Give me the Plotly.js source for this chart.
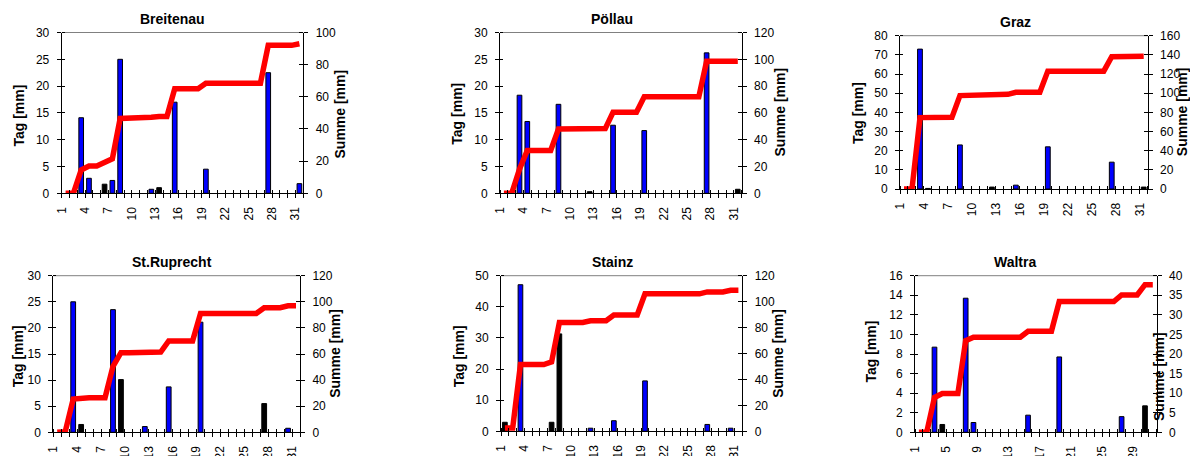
<!DOCTYPE html>
<html><head><meta charset="utf-8">
<script src="https://cdn.plot.ly/plotly-3.0.1.min.js"></script>
<style>html,body{margin:0;padding:0;background:#fff}#chart{width:1190px;height:456px}</style>
</head><body><div id="chart"></div>
<script>
// ---- data ----
const days = [1,2,3,4,5,6,7,8,9,10,11,12,13,14,15,16,17,18,19,20,21,22,23,24,25,26,27,28,29,30,31];
const labelDays = [1,4,7,10,13,16,19,22,25,28,31];
const labelDaysWaltra = [1,5,9,13,17,21,25,29];
const stationNames = ['Breitenau','Pöllau','Graz','St.Ruprecht','Stainz','Waltra'];

// daily precipitation, blue bars
const breitenauBlue  = [0,0,14.1,2.8,0,0,2.4,25.0,0,0,0,0.75,0,0,17.0,0,0,0,4.5,0,0,0,0,0,0,0,22.5,0,0,0,1.8];
const breitenauBlack = [0,0,0,0,0,1.7,0,0,0,0,0,0,1.05,0,0,0,0,0,0,0,0,0,0,0,0,0,0,0,0,0,0];
const breitenauSum   = [0,0,14.5,17,17,19,21.5,46.5,46.5,46.5,46.5,47.3,47.8,47.8,65,65,65,65,68.5,68.5,68.5,68.5,68.5,68.5,68.5,68.5,92,92,92,92,93];

const poellauBlue  = [0,0,18.3,13.4,0,0,0,16.6,0,0,0,0,0,0,12.7,0,0,0,11.7,0,0,0,0,0,0,0,26.2,0,0,0,0];
const poellauBlack = [0,0,0,0,0,0,0,0,0,0,0,0.3,0,0,0,0,0,0,0,0,0,0,0,0,0,0,0,0,0,0,0.75];
const poellauSum   = [0,0,18,32,32,32,32,48,48,48,48,48.3,48.3,48.3,60.5,60.5,60.5,60.5,72,72,72,72,72,72,72,72,98.5,98.5,98.5,98.5,98.5];

const grazBlue  = [0,0,73.0,0,0,0,0,23.0,0,0,0,0,0,0,2.0,0,0,0,22.0,0,0,0,0,0,0,0,14.0,0,0,0,0];
const grazBlack = [0,0,0,0.3,0,0,0,0,0,0,0,1.0,0,0,0,0,0,0,0,0,0,0,0,0,0,0,0,0,0,0,1.0];
const grazSum   = [0,0,74.5,74.8,74.8,74.8,74.8,97.5,97.5,97.5,97.5,98.8,98.8,98.8,101,101,101,101,123,123,123,123,123,123,123,123,138,138,138,138,138.5];

const ruprechtBlue  = [0,0,25.0,0,0,0,0,23.5,0,0,0,1.1,0,0,8.7,0,0,0,21.1,0,0,0,0,0,0,0,0,0,0,0.77,0];
const ruprechtBlack = [0,0,0,1.5,0,0,0,0,10.1,0,0,0,0,0,0,0,0,0,0,0,0,0,0,0,0,0,5.5,0,0,0,0];
const ruprechtSum   = [0,0.5,25.5,26.5,26.5,26.5,26.5,50.5,61,61,61,61.5,61.5,61.5,70,70,70,70,91,91,91,91,91,91,91,91,95.5,95.5,95.5,97,97];

const stainzBlue  = [0,0,47.1,0,0,0,0,0,0,0,0,1.0,0,0,3.4,0,0,0,16.2,0,0,0,0,0,0,0,2.2,0,0,1.0,0];
const stainzBlack = [2.9,0,0,0,0,0,2.9,31.3,0,0,0,0,0,0,0,0,0,0,0,0,0,0,0,0,0,0,0,0,0,0,0];
const stainzSum   = [2.5,2.5,51.5,51.5,51.5,51.5,53.5,84,84,84,84,85.3,85.3,85.3,89.7,89.7,89.7,89.7,106,106,106,106,106,106,106,106,107.5,107.5,107.5,108.8,108.8];

const waltraBlue  = [0,0,8.7,0,0,0,13.7,1.0,0,0,0,0,0,0,1.75,0,0,0,7.7,0,0,0,0,0,0,0,1.6,0,0,0,0];
const waltraBlack = [0,0,0,0.8,0,0,0,0,0,0,0,0,0,0,0,0,0,0,0,0,0,0,0,0,0,0,0,0,0,2.7,0];
const waltraSum   = [0,0,8.9,9.9,9.9,9.9,23.4,24.3,24.3,24.3,24.3,24.3,24.3,24.3,25.8,25.8,25.8,25.8,33.4,33.4,33.4,33.4,33.4,33.4,33.4,33.4,35.1,35.1,35.1,37.7,37.7];

const leftRanges  = [30,30,80,30,50,16];
const leftDticks  = [5,5,10,5,10,2];
const rightRanges = [100,120,160,120,120,40];
const rightDticks = [20,20,20,20,20,5];

// ---- geometry (pixels) ----
const W = 1190, H = 456;
const boxes = [ // left, right, top, bottom
  [61.7,303.3,32.5,193.3],[500,741.7,32.5,193.3],[900,1147.7,35.7,189],
  [53.3,300,275.7,432.3],[501,742.3,275.7,431.3],[915,1156.7,275.7,432.3]];
const titlePos = [[172,19],[612,19],[1015,22],[172,262],[612.5,262],[1014.5,262]];
const leftTitlePos = [[18.8,115.8],[456.7,114],[857.8,113.3],[18.3,356],[459.3,356],[870.8,351.8]];
const rightTitlePos = [[340.3,114.2],[779,112.5],[1182,112.2],[335,353.8],[778,353.8],[1159.7,376.3]];

const blueSets = [breitenauBlue,poellauBlue,grazBlue,ruprechtBlue,stainzBlue,waltraBlue];
const blackSets = [breitenauBlack,poellauBlack,grazBlack,ruprechtBlack,stainzBlack,waltraBlack];
const sumSets = [breitenauSum,poellauSum,grazSum,ruprechtSum,stainzSum,waltraSum];
const labelSets = [labelDays,labelDays,labelDays,labelDays,labelDays,labelDaysWaltra];

const FONT = 'Liberation Sans, Arial, sans-serif';
const traces = [];
const layout = {
  width: W, height: H, margin: {l:0,r:0,t:0,b:0}, autosize: false,
  paper_bgcolor: '#fff', plot_bgcolor: 'rgba(0,0,0,0)',
  showlegend: false, barmode: 'overlay',
  font: {family: FONT, size: 12, color: '#000'},
  annotations: [], shapes: []
};
const nm = (p, n) => p + (n === 1 ? '' : n);
const boundaries = []; for (let k = 0; k <= 31; k++) boundaries.push(k + 0.5);

stationNames.forEach((name, i) => {
  const n = i + 1;
  const xa = nm('x', n), yl = nm('y', 2*n-1), yr = nm('y', 2*n);
  const [l, r, t, b] = boxes[i];
  const slot = (r - l) / 31;
  const nz = a => a.map(v => v === 0 ? null : v);

  traces.push({type:'bar', x: days, y: nz(blueSets[i]), xaxis: xa, yaxis: yl, width: 0.6,
    marker: {color:'#0000FF', line:{color:'#000', width:1}}, hoverinfo:'skip'});
  traces.push({type:'bar', x: days, y: nz(blackSets[i]), xaxis: xa, yaxis: yl, width: 0.6,
    marker: {color:'#000', line:{color:'#000', width:1}}, hoverinfo:'skip'});
  traces.push({type:'scatter', mode:'lines', x: days, y: sumSets[i], xaxis: xa, yaxis: yr,
    line: {color:'#FF0000', width:5.5}, hoverinfo:'skip'});

  const labels = labelSets[i];
  layout[nm('xaxis', n)] = {
    domain: [l/W, r/W], anchor: yl, range: [0.5, 31.5], fixedrange: true,
    tickmode: 'array', tickvals: boundaries,
    ticktext: boundaries.map(v => labels.includes(v + 0.5) ? String(v + 0.5) : ''),
    tickangle: -90, ticklabelshift: slot/2, ticklabelstandoff: 4,
    ticks: 'outside', ticklen: 4, tickcolor: '#000', tickwidth: 1,
    minor: {tickmode:'array', tickvals: boundaries.map(v => v + 1e-4), ticks:'inside', ticklen: 3, tickcolor:'#000', tickwidth:1},
    showline: true, linecolor: '#000', linewidth: 1, showgrid: false, zeroline: false,
    tickfont: {family: FONT, size: 12, color: '#000'}
  };
  const yTicks = [], yrTicks = [];
  for (let v = 0; v <= leftRanges[i] + 1e-9; v += leftDticks[i]) yTicks.push(v);
  for (let v = 0; v <= rightRanges[i] + 1e-9; v += rightDticks[i]) yrTicks.push(v);
  const yDom = [1 - b/H, 1 - t/H];
  layout[nm('yaxis', 2*n-1)] = {
    domain: yDom, anchor: xa, range: [0, leftRanges[i]], fixedrange: true,
    tickmode: 'array', tickvals: yTicks,
    ticks: 'outside', ticklen: 4, tickcolor: '#000', ticklabelstandoff: 5,
    minor: {tickmode:'array', tickvals: yTicks.map(v => v + 1e-6*leftRanges[i]), ticks:'inside', ticklen: 3, tickcolor:'#000'},
    showline: true, linecolor: '#000', linewidth: 1, showgrid: false, zeroline: false,
    tickfont: {family: FONT, size: 12, color: '#000'}
  };
  layout[nm('yaxis', 2*n)] = {
    domain: yDom, anchor: xa, overlaying: yl, side: 'right', range: [0, rightRanges[i]], fixedrange: true,
    tickmode: 'array', tickvals: yrTicks,
    ticks: 'outside', ticklen: 4, tickcolor: '#000', ticklabelstandoff: 5,
    minor: {tickmode:'array', tickvals: yrTicks.map(v => v + 1e-6*rightRanges[i]), ticks:'inside', ticklen: 4, tickcolor:'#000'},
    showline: true, linecolor: '#000', linewidth: 1, showgrid: false, zeroline: false,
    tickfont: {family: FONT, size: 12, color: '#000'}
  };
  layout.shapes.push({type:'line', xref: xa + ' domain', yref: yl + ' domain', x0: 0, x1: 1, y0: 1, y1: 1,
    line: {color:'#808080', width: 1}, layer: 'below'});

  layout.annotations.push({text: '<b>' + name + '</b>', xref:'paper', yref:'paper',
    x: titlePos[i][0]/W, y: 1 - titlePos[i][1]/H, xanchor:'center', yanchor:'middle', showarrow:false,
    font: {family: FONT, size: 14, color:'#000'}});
  layout.annotations.push({text: '<b>Tag [mm]</b>', xref:'paper', yref:'paper', textangle: -90,
    x: leftTitlePos[i][0]/W, y: 1 - leftTitlePos[i][1]/H, xanchor:'center', yanchor:'middle', showarrow:false,
    font: {family: FONT, size: 14, color:'#000'}});
  layout.annotations.push({text: '<b>Summe [mm]</b>', xref:'paper', yref:'paper', textangle: -90,
    x: rightTitlePos[i][0]/W, y: 1 - rightTitlePos[i][1]/H, xanchor:'center', yanchor:'middle', showarrow:false,
    font: {family: FONT, size: 14, color:'#000'}});
});

Plotly.newPlot('chart', traces, layout, {staticPlot: true, displayModeBar: false});
</script>
</body></html>
